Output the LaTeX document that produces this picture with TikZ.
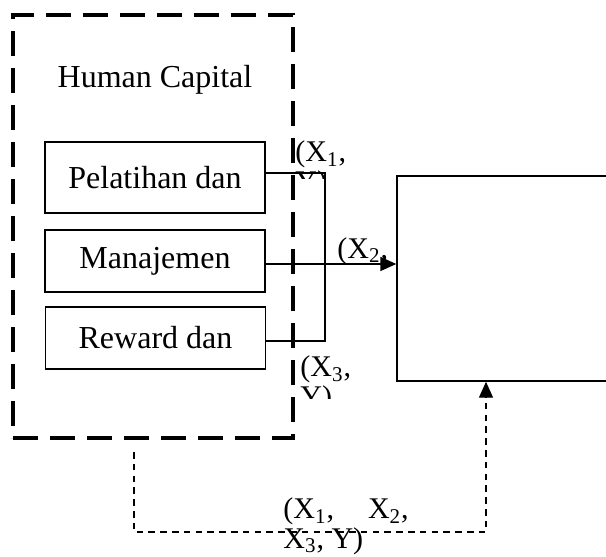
\documentclass[tikz,border=0pt]{standalone}
\usepackage{fontspec}
\setmainfont{Liberation Serif}
\usetikzlibrary{arrows.meta, positioning}
\tikzset{
  varbox/.style={draw, line width=.7pt, minimum width=110pt, minimum height=31pt, inner sep=0pt, font=\fontsize{16}{18}\selectfont},
  hcframe/.style={draw, line width=2.3pt, dash pattern=on 12.5pt off 6pt, minimum width=140pt, minimum height=211.5pt, inner sep=0pt},
  lbl/.style={inner sep=0pt, anchor=base west, align=left, font=\fontsize{15}{12}\selectfont},
  fback/.style={line width=.65pt, dash pattern=on 3.3pt off 2.6pt},
  tip/.style={-{Triangle[length=8pt,width=7pt]}}
}
\begin{document}
\begin{tikzpicture}[x=.5pt, y=-.5pt]
        \useasboundingbox (0,0) rectangle (606,557);
        \node[hcframe] (hc) at (153,226.5) {};
        \node[font=\fontsize{16}{18}\selectfont] (hctitle) at (155,80) {Human Capital};
        \node[varbox, minimum height=35.5pt] (x1) at (155,177.5) {Pelatihan dan};
        \node[varbox] (x2) at (155,261) {Manajemen};
        \node[varbox] (x3) at (155.5,338) {Reward dan};
        \node[draw, line width=.7pt, minimum width=111.5pt, minimum height=102.5pt, inner sep=0pt] (yb) at (508.5,278.5) {};
        \coordinate (rail) at (325,260);
        \draw[line width=.7pt] ([yshift=2.25pt]x1.east) -| (rail) |- ([yshift=-1.5pt]x3.east);
        \draw[line width=.8pt, tip] ([yshift=-1.5pt]x2.east) -- ([yshift=-1.5pt]x2.east -| yb.west);
        \coordinate (fbtop) at (134,452);
        \coordinate (fbturn) at (486,532);
        \draw[fback, tip] (fbtop) |- (fbturn) -- (fbturn |- yb.south);
        \begin{scope}
          \clip (290,130) rectangle (360,178);
          \node[lbl] (l1) at (295,191) {(X\textsubscript{1},\\Y)};
        \end{scope}
        \node[lbl] (l2) at (337,258) {(X\textsubscript{2},};
        \begin{scope}
          \clip (295,350) rectangle (360,398);
          \node[lbl] (l3) at (300,406) {(X\textsubscript{3},\\Y)};
        \end{scope}
        \node[lbl, font=\fontsize{15}{13.5}\selectfont] (l4) at (283,548) {(X\textsubscript{1},\hspace{17pt}X\textsubscript{2},\\X\textsubscript{3}, Y)};
      \end{tikzpicture}
\end{document}
